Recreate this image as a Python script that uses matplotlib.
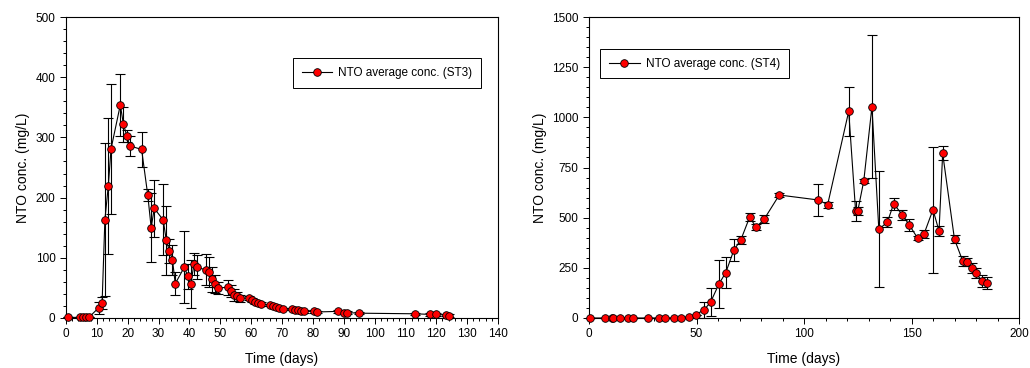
import matplotlib
matplotlib.use('Agg')
import matplotlib.pyplot as plt
from matplotlib.ticker import MultipleLocator
import numpy as np

plt.rcParams['font.family'] = ['Liberation Sans', 'DejaVu Sans']

# ST3 series (left panel)
daysST3 = [0.5, 4.5, 5.5, 6.5, 7.6, 10.6, 11.7, 12.6, 13.7, 14.6, 17.6, 18.6, 19.7, 20.6, 24.5,
           26.5, 27.6, 28.6, 31.5, 32.5, 33.5, 34.5, 35.4, 38.4, 39.4, 40.4, 41.5, 42.5, 45.3,
           46.4, 47.3, 48.3, 49.4, 52.4, 53.4, 54.5, 55.4, 56.4, 59.3, 60.3, 61.3, 62.2, 63.2,
           66.2, 67.2, 68.2, 69.1, 70.2, 73.3, 74.2, 75.2, 76.2, 77.2, 80.3, 81.3, 88.3, 90.2,
           91.2, 95, 113, 118, 120, 123, 124]
concST3 = [1, 1, 1, 1.5, 2, 17, 25, 163, 219, 281, 354, 322, 303, 286, 280,
           204, 150, 182, 163, 129, 112, 97, 57, 85, 69, 56, 90, 84, 80,
           76, 64, 56, 50, 51, 45, 39, 36, 33, 33, 30, 27, 25, 23,
           22, 20, 19, 17, 15, 15, 14, 13, 12, 11, 11, 10, 11, 9,
           9, 8, 7, 6, 6, 5, 4]
errST3 = [0, 0, 0, 0, 0, 10, 10, 127, 113, 108, 51, 29, 10, 17, 29,
          10, 57, 47, 59, 57, 20, 25, 19, 60, 20, 40, 18, 20, 26,
          25, 20, 15, 10, 12, 10, 10, 8, 6, 3, 3, 3, 3, 3,
          2, 2, 2, 2, 2, 2, 2, 2, 2, 2, 2, 2, 2, 2,
          2, 2, 2, 2, 2, 2, 2]

# ST4 series (right panel)
daysST4 = [0.5, 7.4, 10.5, 11.3, 14.4, 18.3, 20.3, 27.6, 32.6, 35.5, 39.5, 42.6, 46.5, 49.6,
           53.5, 56.6, 60.5, 63.6, 67.4, 70.6, 74.7, 77.8, 81.5, 88.5, 106.7, 111, 120.8, 124,
           125, 127.8, 131.6, 134.8, 138.8, 141.7, 145.7, 149, 152.9, 155.8, 160, 162.8, 164.5,
           170, 173.9, 175.7, 178, 179.8, 182.9, 185]
concST4 = [0, 0, 0, 0, 0, 0, 0, 0, 0, 0, 0, 0, 7, 17,
           40, 80, 171, 226, 339, 389, 502, 452, 493, 613, 588, 565, 1030, 533,
           533, 683, 1053, 442, 478, 569, 515, 463, 397, 418, 540, 433, 820,
           392, 282, 277, 247, 222, 186, 176]
errST4 = [0, 0, 0, 0, 0, 0, 0, 0, 0, 0, 0, 0, 0, 0,
          40, 70, 120, 78, 57, 20, 20, 15, 20, 10, 80, 15, 123, 50,
          20, 10, 355, 290, 26, 30, 25, 30, 10, 20, 314, 25, 35,
          20, 25, 20, 25, 25, 30, 30]

fig = plt.figure(figsize=(10.3, 3.68), dpi=100)
ax1 = fig.add_axes([66/1030, 50/368, 432/1030, 301/368])
ax2 = fig.add_axes([589/1030, 50/368, 430/1030, 301/368])

def drawPanel(ax, days, conc, err, lab):
    ax.errorbar(days, conc, yerr=err, fmt='none', ecolor='k', elinewidth=0.8, capsize=3.5,
                capthick=0.8, zorder=2, clip_on=False)
    ax.plot(days, conc, '-o', color='k', lw=0.8, markerfacecolor='red', markeredgecolor='k',
            markeredgewidth=0.6, markersize=5.5, label=lab, zorder=3, clip_on=False)
    ax.set_xlabel('Time (days)', fontsize=10, labelpad=8)
    ax.set_ylabel('NTO conc. (mg/L)', fontsize=10, labelpad=4)
    ax.tick_params(which='both', direction='out', labelsize=8.5, width=0.7)
    ax.tick_params(which='major', length=4)
    ax.tick_params(which='minor', length=2.5)
    for s in ax.spines.values(): s.set_linewidth(0.8)

drawPanel(ax1, daysST3, concST3, errST3, 'NTO average conc. (ST3)')
ax1.set_xlim(0, 140); ax1.set_ylim(0, 500)
ax1.xaxis.set_major_locator(MultipleLocator(10)); ax1.xaxis.set_minor_locator(MultipleLocator(2))
ax1.yaxis.set_major_locator(MultipleLocator(100)); ax1.yaxis.set_minor_locator(MultipleLocator(20))
leg1 = ax1.legend(loc='upper right', bbox_to_anchor=(0.975, 0.884), fontsize=8.5, fancybox=False,
                  edgecolor='k', framealpha=1, handlelength=2.6, borderpad=0.75, handletextpad=0.5)
leg1.get_frame().set_linewidth(0.7)

drawPanel(ax2, daysST4, concST4, errST4, 'NTO average conc. (ST4)')
ax2.set_xlim(0, 200); ax2.set_ylim(0, 1500)
ax2.xaxis.set_major_locator(MultipleLocator(50)); ax2.xaxis.set_minor_locator(MultipleLocator(10))
ax2.yaxis.set_major_locator(MultipleLocator(250)); ax2.yaxis.set_minor_locator(MultipleLocator(50))
leg2 = ax2.legend(loc='upper left', bbox_to_anchor=(0.012, 0.914), fontsize=8.5, fancybox=False,
                  edgecolor='k', framealpha=1, handlelength=2.6, borderpad=0.75, handletextpad=0.5)
leg2.get_frame().set_linewidth(0.7)

fig.savefig('out.png', dpi=100)
